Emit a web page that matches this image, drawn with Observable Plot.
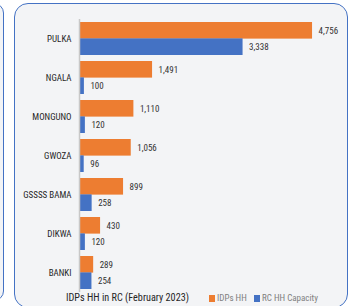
<!DOCTYPE html>
<html>
<head>
<meta charset="utf-8">
<script src="https://cdn.jsdelivr.net/npm/d3@7"></script>
<script src="https://cdn.jsdelivr.net/npm/@observablehq/plot@0.6"></script>
<style>
  html, body { margin: 0; padding: 0; background: #ffffff; overflow: hidden; }
  body { width: 349px; height: 306px; position: relative; font-family: "Roboto Condensed", sans-serif; }
  .leftpanel { position: absolute; left: -300px; top: 3px; width: 302px; height: 296px; border: 1.5px solid #4472C4; border-radius: 10px; background: #f3f4f6; }
  .panel { position: absolute; left: 14px; top: 3px; width: 332px; height: 303px; border: 1.5px solid #4472C4; border-radius: 14px; background: #f3f4f6; }
  #chart { position: absolute; left: 0; top: 0; }
  .foot { position: absolute; top: 291px; left: 0; width: 349px; height: 14px; font-size: 9px; line-height: 14px; white-space: nowrap; }
  .title { position: absolute; left: 66px; color: #262626; font-size: 10.2px; }
  .leg { position: absolute; color: #7f7f7f; }
  .sw { display: inline-block; width: 6px; height: 7px; margin-right: 2px; vertical-align: -1px; }
</style>
</head>
<body>
<div class="leftpanel"></div>
<div class="panel"></div>
<div id="chart"></div>
<div class="foot">
  <span class="title" id="title"></span>
  <span class="leg" id="leg1" style="left:209px"></span>
  <span class="leg" id="leg2" style="left:254px"></span>
</div>
<script>
const categories = ["PULKA", "NGALA", "MONGUNO", "GWOZA", "GSSSS BAMA", "DIKWA", "BANKI"];
const idpsHH = [4756, 1491, 1110, 1056, 899, 430, 289];
const rcCapacity = [3338, 100, 120, 96, 258, 120, 254];
const seriesNames = ["IDPs HH", "RC HH Capacity"];
const seriesColors = ["#ED7D31", "#4472C4"];
const titleText = "IDPs HH in RC (February 2023)";

const rowsA = categories.map((c, i) => ({cat: c, value: idpsHH[i]}));
const rowsB = categories.map((c, i) => ({cat: c, value: rcCapacity[i]}));

const height = 292, marginTop = 19, marginBottom = 0;
const paddingInner = 0.16;
const step = (height - marginTop - marginBottom) / categories.length;
const bw = step * (1 - paddingInner);
const fmt = d3.format(",");

const chart = Plot.plot({
  width: 349,
  height,
  marginTop,
  marginBottom,
  marginLeft: 79,
  marginRight: 25,
  style: {background: "transparent", fontFamily: "'Roboto Condensed', sans-serif", fontSize: "9px", color: "#262626"},
  x: {domain: [0, 5000], axis: null},
  y: {domain: categories, paddingInner, paddingOuter: paddingInner / 2, label: null, tickSize: 0, tickPadding: 8},
  marks: [
    Plot.barX(rowsA, {x: "value", y: "cat", fill: seriesColors[0], insetBottom: bw / 2}),
    Plot.barX(rowsB, {x: "value", y: "cat", fill: seriesColors[1], insetTop: bw / 2}),
    Plot.text(rowsA, {x: "value", y: "cat", text: d => fmt(d.value), textAnchor: "start", dx: 6, dy: -bw / 4, fill: "#333333"}),
    Plot.text(rowsB, {x: "value", y: "cat", text: d => fmt(d.value), textAnchor: "start", dx: 6, dy: bw / 4, fill: "#333333"}),
    Plot.ruleX([0], {stroke: "#c8c8c8", strokeWidth: 1.5})
  ]
});
document.getElementById("chart").appendChild(chart);

document.getElementById("title").textContent = titleText;
[["leg1", 0], ["leg2", 1]].forEach(([id, i]) => {
  const el = document.getElementById(id);
  const sw = document.createElement("span");
  sw.className = "sw";
  sw.style.background = seriesColors[i];
  el.appendChild(sw);
  el.appendChild(document.createTextNode(seriesNames[i]));
});
</script>
</body>
</html>
